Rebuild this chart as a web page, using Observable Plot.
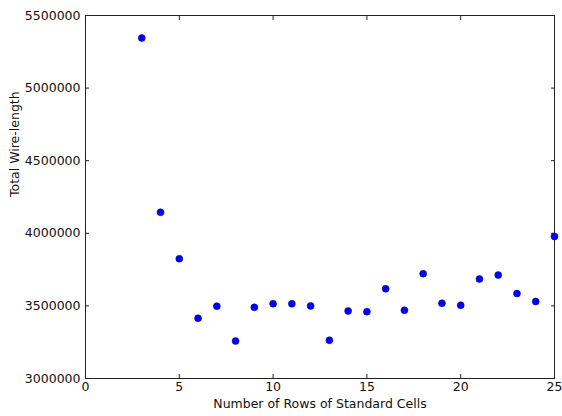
<!DOCTYPE html>
<html>
<head>
<meta charset="utf-8">
<script src="https://cdn.jsdelivr.net/npm/d3@7"></script>
<script src="https://cdn.jsdelivr.net/npm/@observablehq/plot@0.6"></script>
<style>
  html, body { margin: 0; padding: 0; background: #fff; }
  svg { display: block; }
</style>
</head>
<body>
<div id="chart"></div>
<script>
const rows = [3, 4, 5, 6, 7, 8, 9, 10, 11, 12, 13, 14, 15, 16, 17, 18, 19, 20, 21, 22, 23, 24, 25];
const wireLength = [5345000, 4145000, 3825000, 3415000, 3498000, 3258000, 3490000, 3515000, 3515000, 3500000, 3263000, 3465000, 3460000, 3618000, 3470000, 3722000, 3518000, 3505000, 3685000, 3712000, 3585000, 3530000, 3978000];
const xTicks = [0, 5, 10, 15, 20, 25];
const yTicks = [3000000, 3500000, 4000000, 4500000, 5000000, 5500000];
const xLabel = "Number of Rows of Standard Cells";
const yLabel = "Total Wire-length";

const data = rows.map((r, i) => ({x: r, y: wireLength[i]}));
const font = "DejaVu Sans, sans-serif";

const chart = Plot.plot({
  width: 562,
  height: 416,
  marginLeft: 85,
  marginRight: 8,
  marginTop: 15,
  marginBottom: 38,
  style: {fontFamily: font, fontSize: "12.5px", color: "#111", background: "#fff"},
  x: {domain: [0, 25], axis: null},
  y: {domain: [3000000, 5500000], axis: null},
  marks: [
    Plot.frame({stroke: "#222", strokeWidth: 1}),
    Plot.axisX({anchor: "bottom", ticks: xTicks, tickSize: -4, fill: "none", stroke: "#222", label: null}),
    Plot.axisX({anchor: "top", ticks: xTicks, tickSize: -4, fill: "none", stroke: "#222", label: null}),
    Plot.axisY({anchor: "left", ticks: yTicks, tickSize: -4, fill: "none", stroke: "#222", label: null}),
    Plot.axisY({anchor: "right", ticks: yTicks, tickSize: -4, fill: "none", stroke: "#222", label: null}),
    Plot.axisX({anchor: "bottom", ticks: xTicks, tickSize: 0, tickPadding: 4, tickFormat: d => String(d), fill: "#111", fontSize: 12.5, label: null}),
    Plot.axisY({anchor: "left", ticks: yTicks, tickSize: 0, tickPadding: 5, tickFormat: d => String(d), fill: "#111", fontSize: 12.5, label: null}),
    Plot.text([xLabel], {text: d => d, frameAnchor: "bottom", dy: 29, fill: "#111", fontSize: 12.5, lineAnchor: "bottom"}),
    Plot.text([yLabel], {text: d => d, frameAnchor: "left", dx: -71, rotate: -90, fill: "#111", fontSize: 12.5}),
    Plot.dot(data, {x: "x", y: "y", r: 3.5, fill: "#0000ff", stroke: "#00007a", strokeWidth: 0.5})
  ]
});
document.getElementById("chart").appendChild(chart);
</script>
</body>
</html>
